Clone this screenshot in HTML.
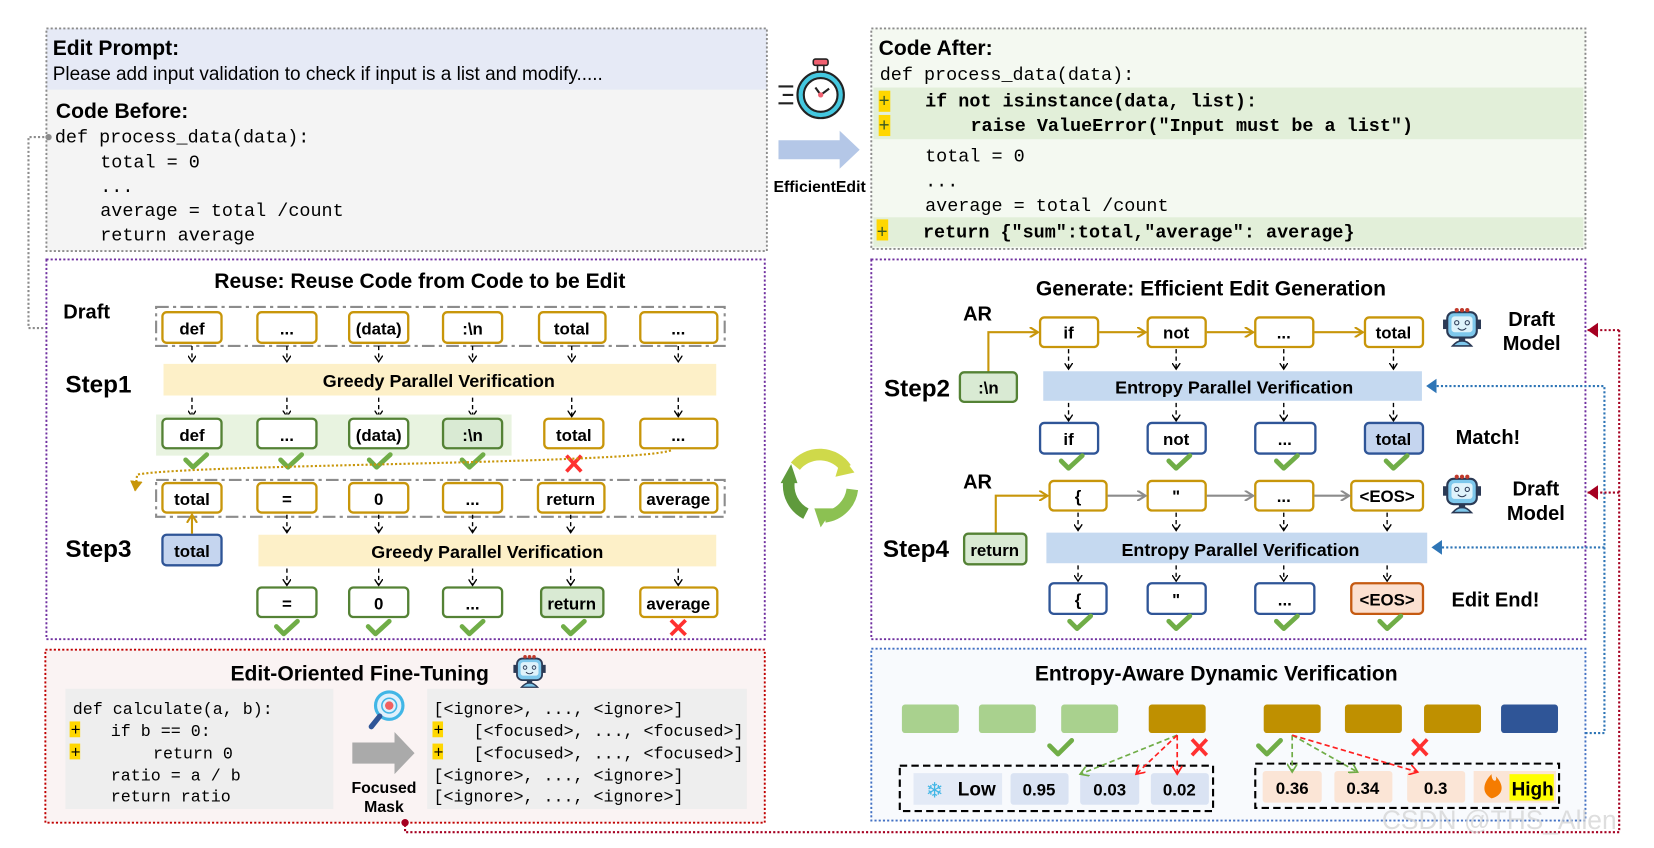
<!DOCTYPE html>
<html><head><meta charset="utf-8"><style>
html,body{margin:0;padding:0;background:#fff;width:1654px;height:848px;overflow:hidden}
svg{display:block}
.b{font-family:"Liberation Sans",sans-serif;font-weight:bold;fill:#000}
.m{font-family:"Liberation Mono",monospace;fill:#000}
.t{font-family:"Liberation Sans",sans-serif;font-weight:bold;font-size:16px;text-anchor:middle;fill:#000}
.gold{fill:#fff;stroke:#c8960a;stroke-width:2.2}
.grn{fill:#fff;stroke:#548235;stroke-width:2.2}
.grnf{fill:#d9ead3;stroke:#548235;stroke-width:2.2}
.blu{fill:#fff;stroke:#2f5597;stroke-width:2.2}
.bluf{fill:#c5d5ef;stroke:#2f5597;stroke-width:2.2}
.da{stroke:#000;stroke-width:1.3;stroke-dasharray:4 3;fill:none}
.ck{stroke:#70ad47;stroke-width:4.5;fill:none;stroke-linecap:round;stroke-linejoin:round}
.x{stroke:#ff3030;stroke-width:3.5;fill:none}
</style></head><body>
<svg width="1654" height="848" viewBox="0 0 1568 804" preserveAspectRatio="none" xmlns="http://www.w3.org/2000/svg">
<defs>
<marker id="ah" markerWidth="8" markerHeight="8" refX="6" refY="4" orient="auto" markerUnits="userSpaceOnUse"><path d="M0,0 L6,4 L0,8" fill="none" stroke="#000" stroke-width="1.3"/></marker>
<marker id="ag" markerWidth="10" markerHeight="10" refX="8" refY="5" orient="auto" markerUnits="userSpaceOnUse"><path d="M0,0 L8,5 L0,10" fill="none" stroke="#c8960a" stroke-width="2"/></marker>
<marker id="agr" markerWidth="10" markerHeight="10" refX="8" refY="5" orient="auto" markerUnits="userSpaceOnUse"><path d="M0,0 L8,5 L0,10" fill="none" stroke="#8c8c8c" stroke-width="2"/></marker>
<marker id="tri" markerWidth="12" markerHeight="12" refX="10" refY="6" orient="auto" markerUnits="userSpaceOnUse"><path d="M0,0 L10,6 L0,12z" fill="#8c8c8c"/></marker>
<marker id="trig" markerWidth="12" markerHeight="12" refX="10" refY="6" orient="auto" markerUnits="userSpaceOnUse"><path d="M0,0 L10,6 L0,12z" fill="#c8960a"/></marker>
<marker id="trib" markerWidth="12" markerHeight="14" refX="10" refY="7" orient="auto" markerUnits="userSpaceOnUse"><path d="M0,0 L10,7 L0,14z" fill="#2e75b6"/></marker>
<marker id="trir" markerWidth="12" markerHeight="14" refX="10" refY="7" orient="auto" markerUnits="userSpaceOnUse"><path d="M0,0 L10,7 L0,14z" fill="#a50021"/></marker>
<marker id="agn" markerWidth="10" markerHeight="10" refX="8" refY="5" orient="auto" markerUnits="userSpaceOnUse"><path d="M0,0 L8,5 L0,10" fill="none" stroke="#70ad47" stroke-width="1.6"/></marker>
<marker id="arr" markerWidth="10" markerHeight="10" refX="8" refY="5" orient="auto" markerUnits="userSpaceOnUse"><path d="M0,0 L8,5 L0,10" fill="none" stroke="#ff2020" stroke-width="1.6"/></marker>
<g id="robot"><rect x="-14" y="-16" width="28" height="24" rx="6" fill="#7ec8ec" stroke="#2b3a55" stroke-width="2"/><rect x="-10" y="-12" width="20" height="15" rx="3" fill="#dff3fb"/><circle cx="-5" cy="-6" r="2" fill="none" stroke="#2b3a55"/><circle cx="5" cy="-6" r="2" fill="none" stroke="#2b3a55"/><path d="M-4,-1 Q0,3 4,-1" stroke="#2b3a55" fill="none"/><rect x="-18" y="-9" width="4" height="9" fill="#2b3a55"/><rect x="14" y="-9" width="4" height="9" fill="#2b3a55"/><circle cx="-5" cy="-18" r="2" fill="#c0392b"/><circle cx="0" cy="-18" r="2" fill="#c0392b"/><circle cx="5" cy="-18" r="2" fill="#c0392b"/><path d="M-9,16 Q0,6 9,16z" fill="#7ec8ec" stroke="#2b3a55" stroke-width="1.5"/><rect x="-3" y="8" width="6" height="4" fill="#2b3a55"/></g>
</defs>

<!-- top-left -->
<rect x="44" y="27" width="683" height="211" fill="#f4f4f4"/>
<rect x="44" y="27" width="683" height="58" fill="#e6eaf6"/>
<rect x="44" y="27" width="683" height="211" fill="none" stroke="#8c8c8c" stroke-width="1.8" stroke-dasharray="2 2"/>
<text class="b" x="50" y="52" font-size="20">Edit Prompt:</text>
<text x="50" y="76" font-size="18" font-family="Liberation Sans,sans-serif">Please add input validation to check if input is a list and modify.....</text>
<text class="b" x="53" y="112" font-size="20">Code Before:</text>
<g class="m" font-size="17.5">
<text x="52" y="135">def process_data(data):</text>
<text x="95" y="159">total = 0</text>
<text x="95" y="182">...</text>
<text x="95" y="205">average = total /count</text>
<text x="95" y="228">return average</text>
</g>
<path d="M46,130 H27 V311 H146" fill="none" stroke="#8c8c8c" stroke-width="2" stroke-dasharray="2 2" marker-end="url(#tri)"/>
<circle cx="46" cy="130" r="3" fill="#8c8c8c"/>

<!-- Reuse box -->
<rect x="44" y="246" width="681" height="360" fill="#fff" stroke="#7030a0" stroke-width="1.8" stroke-dasharray="2 2"/>
<text class="b" x="398" y="273" font-size="20" text-anchor="middle">Reuse: Reuse Code from Code to be Edit</text>
<text class="b" x="60" y="302" font-size="19">Draft</text>
<rect x="148" y="291" width="539" height="37" fill="none" stroke="#8c8c8c" stroke-width="2" stroke-dasharray="12 4 3 4"/>
<g>
<rect class="gold" x="154" y="296" width="56" height="29" rx="4"/><text class="t" x="182" y="317">def</text>
<rect class="gold" x="244" y="296" width="56" height="29" rx="4"/><text class="t" x="272" y="317">...</text>
<rect class="gold" x="331" y="296" width="56" height="29" rx="4"/><text class="t" x="359" y="317">(data)</text>
<rect class="gold" x="420" y="296" width="56" height="29" rx="4"/><text class="t" x="448" y="317">:\n</text>
<rect class="gold" x="511" y="296" width="63" height="29" rx="4"/><text class="t" x="542" y="317">total</text>
<rect class="gold" x="607" y="296" width="73" height="29" rx="4"/><text class="t" x="643" y="317">...</text>
</g>
<text class="b" x="62" y="372" font-size="23">Step1</text>
<rect x="155" y="345" width="524" height="30" fill="#fdf0c8"/>
<text class="b" x="416" y="367" font-size="17" text-anchor="middle">Greedy Parallel Verification</text>
<g class="da" marker-end="url(#ah)">
<line x1="182" y1="328" x2="182" y2="343"/><line x1="272" y1="328" x2="272" y2="343"/><line x1="359" y1="328" x2="359" y2="343"/><line x1="448" y1="328" x2="448" y2="343"/><line x1="542" y1="328" x2="542" y2="343"/><line x1="643" y1="328" x2="643" y2="343"/>
<line x1="182" y1="377" x2="182" y2="395"/><line x1="272" y1="377" x2="272" y2="395"/><line x1="359" y1="377" x2="359" y2="395"/><line x1="448" y1="377" x2="448" y2="395"/><line x1="542" y1="377" x2="542" y2="395"/><line x1="643" y1="377" x2="643" y2="395"/>
</g>
<rect x="148" y="393" width="337" height="39" fill="#e8f3e0"/>
<rect class="grn" x="154" y="397" width="56" height="28" rx="4"/><text class="t" x="182" y="418">def</text>
<rect class="grn" x="244" y="397" width="56" height="28" rx="4"/><text class="t" x="272" y="418">...</text>
<rect class="grn" x="331" y="397" width="56" height="28" rx="4"/><text class="t" x="359" y="418">(data)</text>
<rect class="grnf" x="420" y="397" width="56" height="28" rx="4"/><text class="t" x="448" y="418">:\n</text>
<rect class="gold" x="516" y="397" width="56" height="28" rx="4"/><text class="t" x="544" y="418">total</text>
<rect class="gold" x="607" y="397" width="73" height="28" rx="4"/><text class="t" x="643" y="418">...</text>
<g class="ck"><path d="M176,436 L183,443 L196,431"/><path d="M266,436 L273,443 L286,431"/><path d="M350,436 L357,443 L370,431"/><path d="M438,436 L445,443 L458,431"/></g>
<g class="x"><line x1="537" y1="432" x2="551" y2="447"/><line x1="551" y1="432" x2="537" y2="447"/></g>
<path d="M636,427 C600,440 180,440 130,450 L128,466" fill="none" stroke="#c8960a" stroke-width="2" stroke-dasharray="2 2" marker-end="url(#trig)"/>
<rect x="148" y="455" width="539" height="35" fill="none" stroke="#8c8c8c" stroke-width="2" stroke-dasharray="12 4 3 4"/>
<rect class="gold" x="154" y="458" width="56" height="28" rx="4"/><text class="t" x="182" y="479">total</text>
<rect class="gold" x="244" y="458" width="56" height="28" rx="4"/><text class="t" x="272" y="479">=</text>
<rect class="gold" x="331" y="458" width="56" height="28" rx="4"/><text class="t" x="359" y="479">0</text>
<rect class="gold" x="420" y="458" width="56" height="28" rx="4"/><text class="t" x="448" y="479">...</text>
<rect class="gold" x="510" y="458" width="63" height="28" rx="4"/><text class="t" x="541" y="479">return</text>
<rect class="gold" x="607" y="458" width="73" height="28" rx="4"/><text class="t" x="643" y="479">average</text>
<text class="b" x="62" y="528" font-size="23">Step3</text>
<rect class="bluf" x="154" y="507" width="56" height="29" rx="4"/><text class="t" x="182" y="528">total</text>
<line x1="182" y1="506" x2="182" y2="488" stroke="#c8960a" stroke-width="2" marker-end="url(#ag)"/>
<rect x="245" y="507" width="434" height="30" fill="#fdf0c8"/>
<text class="b" x="462" y="529" font-size="17" text-anchor="middle">Greedy Parallel Verification</text>
<g class="da" marker-end="url(#ah)">
<line x1="272" y1="488" x2="272" y2="505"/><line x1="359" y1="488" x2="359" y2="505"/><line x1="448" y1="488" x2="448" y2="505"/><line x1="541" y1="488" x2="541" y2="505"/>
<line x1="272" y1="539" x2="272" y2="555"/><line x1="359" y1="539" x2="359" y2="555"/><line x1="448" y1="539" x2="448" y2="555"/><line x1="541" y1="539" x2="541" y2="555"/><line x1="643" y1="539" x2="643" y2="555"/>
</g>
<rect class="grn" x="244" y="557" width="56" height="28" rx="4"/><text class="t" x="272" y="578">=</text>
<rect class="grn" x="331" y="557" width="56" height="28" rx="4"/><text class="t" x="359" y="578">0</text>
<rect class="grn" x="420" y="557" width="56" height="28" rx="4"/><text class="t" x="448" y="578">...</text>
<rect class="grnf" x="513" y="557" width="59" height="28" rx="4"/><text class="t" x="542" y="578">return</text>
<rect class="gold" x="607" y="557" width="73" height="28" rx="4"/><text class="t" x="643" y="578">average</text>
<g class="ck"><path d="M262,594 L269,601 L282,589"/><path d="M349,594 L356,601 L369,589"/><path d="M438,594 L445,601 L458,589"/><path d="M534,594 L541,601 L554,589"/></g>
<g class="x"><line x1="636" y1="588" x2="650" y2="602"/><line x1="650" y1="588" x2="636" y2="602"/></g>

<!-- Fine tuning -->
<rect x="43" y="616" width="682" height="164" fill="#faf3f3" stroke="#c00000" stroke-width="1.8" stroke-dasharray="2 2"/>
<text class="b" x="341" y="645" font-size="20" text-anchor="middle">Edit-Oriented Fine-Tuning</text>
<use href="#robot" transform="translate(502,638) scale(0.85)"/>
<rect x="62" y="653" width="254" height="114" fill="#eeeeee"/>
<rect x="66" y="684" width="10" height="15" fill="#ffd700"/><rect x="66" y="705" width="10" height="15" fill="#ffd700"/>
<g class="m" font-size="15.8">
<text x="69" y="677">def calculate(a, b):</text>
<text x="67" y="697">+</text><text x="105" y="698">if b == 0:</text>
<text x="67" y="718">+</text><text x="145" y="719">return 0</text>
<text x="105" y="740">ratio = a / b</text>
<text x="105" y="760">return ratio</text>
</g>
<g transform="translate(369,669)"><circle r="13" fill="#dff0fb" stroke="#41b6e6" stroke-width="3"/><circle r="7" fill="none" stroke="#41b6e6" stroke-width="1.5"/><circle r="4" fill="#f06060"/><line x1="-9" y1="10" x2="-17" y2="20" stroke="#2f5597" stroke-width="5" stroke-linecap="round"/></g>
<path d="M334,704 H374 V694 L393,714 L374,734 V724 H334z" fill="#aaaaaa"/>
<text class="b" x="364" y="752" font-size="15" text-anchor="middle">Focused</text>
<text class="b" x="364" y="770" font-size="15" text-anchor="middle">Mask</text>
<rect x="405" y="653" width="303" height="114" fill="#eeeeee"/>
<rect x="410" y="684" width="10" height="15" fill="#ffd700"/><rect x="410" y="705" width="10" height="15" fill="#ffd700"/>
<g class="m" font-size="15.8">
<text x="411" y="677">[&lt;ignore&gt;, ..., &lt;ignore&gt;]</text>
<text x="411" y="697">+</text><text x="449" y="698">[&lt;focused&gt;, ..., &lt;focused&gt;]</text>
<text x="411" y="718">+</text><text x="449" y="719">[&lt;focused&gt;, ..., &lt;focused&gt;]</text>
<text x="411" y="740">[&lt;ignore&gt;, ..., &lt;ignore&gt;]</text>
<text x="411" y="760">[&lt;ignore&gt;, ..., &lt;ignore&gt;]</text>
</g>

<!-- middle -->
<g transform="translate(778,90)">
<rect x="-7" y="-34" width="14" height="6" rx="2" fill="#f06070" stroke="#222" stroke-width="1.5"/>
<rect x="-3" y="-28" width="6" height="6" fill="#fff" stroke="#222" stroke-width="1.5"/>
<circle r="22" fill="#44c8e0" stroke="#222" stroke-width="2"/>
<circle r="16" fill="#fff" stroke="#222" stroke-width="2"/>
<path d="M0,0 L-5,-7 M0,0 L8,-6" stroke="#222" stroke-width="2" fill="none"/>
<circle r="2.5" fill="#f06070"/>
<path d="M-40,-8 H-26 M-36,0 H-26 M-40,8 H-26" stroke="#222" stroke-width="2"/>
</g>
<path d="M738,133 H796 V124 L815,142 L796,160 V151 H738z" fill="#b4c7e7"/>
<text class="b" x="777" y="182" font-size="15" text-anchor="middle">EfficientEdit</text>
<g transform="translate(778,460)" fill="none" stroke-width="11">
<path d="M-24,-18 A30,30 0 0 1 24,-16" stroke="#cfd94a"/>
<path d="M30,4 A30,30 0 0 1 4,30" stroke="#8cc152"/>
<path d="M-14,27 A30,30 0 0 1 -30,-4" stroke="#5f9a3c"/>
<path d="M20,-28 L32,-12 L14,-8z" fill="#cfd94a" stroke="none"/>
<path d="M12,22 L0,40 L-6,22z" fill="#8cc152" stroke="none"/>
<path d="M-38,-2 L-22,-2 L-28,-20z" fill="#5f9a3c" stroke="none"/>
</g>

<!-- Code after -->
<rect x="826" y="27" width="677" height="209" fill="#f4f9f1"/>
<rect x="828" y="83" width="673" height="49" fill="#e2efd9"/>
<rect x="828" y="206" width="673" height="28" fill="#e2efd9"/>
<rect x="826" y="27" width="677" height="209" fill="none" stroke="#8c8c8c" stroke-width="1.8" stroke-dasharray="2 2"/>
<text class="b" x="833" y="52" font-size="20">Code After:</text>
<rect x="833" y="86" width="11" height="20" fill="#ffd700"/><rect x="833" y="109" width="11" height="20" fill="#ffd700"/><rect x="831" y="208" width="11" height="20" fill="#ffd700"/>
<g class="m" font-size="17.5">
<text x="834" y="76">def process_data(data):</text>
<text x="833" y="101" fill="#385723">+</text><text x="877" y="101" font-weight="bold">if not isinstance(data, list):</text>
<text x="833" y="124" fill="#385723">+</text><text x="920" y="124" font-weight="bold">raise ValueError("Input must be a list")</text>
<text x="877" y="153">total = 0</text>
<text x="877" y="177">...</text>
<text x="877" y="200">average = total /count</text>
<text x="831" y="225" fill="#385723">+</text><text x="875" y="225" font-weight="bold">return {"sum":total,"average": average}</text>
</g>

<!-- Generate -->
<rect x="826" y="246" width="677" height="360" fill="#fff" stroke="#7030a0" stroke-width="1.8" stroke-dasharray="2 2"/>
<text class="b" x="1148" y="280" font-size="20" text-anchor="middle">Generate: Efficient Edit Generation</text>
<text class="b" x="913" y="304" font-size="19">AR</text>
<path d="M937,353 V315 H984" fill="none" stroke="#c8960a" stroke-width="2" marker-end="url(#ag)"/>
<rect class="gold" x="986" y="301" width="55" height="28" rx="4"/><text class="t" x="1013" y="321">if</text>
<rect class="gold" x="1088" y="301" width="55" height="28" rx="4"/><text class="t" x="1115" y="321">not</text>
<rect class="gold" x="1190" y="301" width="55" height="28" rx="4"/><text class="t" x="1217" y="321">...</text>
<rect class="gold" x="1294" y="301" width="55" height="28" rx="4"/><text class="t" x="1321" y="321">total</text>
<g stroke="#c8960a" stroke-width="2" marker-end="url(#ag)"><line x1="1042" y1="315" x2="1086" y2="315"/><line x1="1144" y1="315" x2="1188" y2="315"/><line x1="1246" y1="315" x2="1292" y2="315"/></g>
<use href="#robot" transform="translate(1386,312)"/>
<text class="b" x="1452" y="309" font-size="19" text-anchor="middle">Draft</text>
<text class="b" x="1452" y="332" font-size="19" text-anchor="middle">Model</text>
<text class="b" x="838" y="376" font-size="23">Step2</text>
<rect class="grnf" x="910" y="353" width="54" height="28" rx="4"/><text class="t" x="937" y="373">:\n</text>
<rect x="989" y="352" width="359" height="28" fill="#c5d9f0"/>
<text class="b" x="1170" y="373" font-size="17" text-anchor="middle">Entropy Parallel Verification</text>
<g class="da" marker-end="url(#ah)">
<line x1="1013" y1="331" x2="1013" y2="350"/><line x1="1115" y1="331" x2="1115" y2="350"/><line x1="1217" y1="331" x2="1217" y2="350"/><line x1="1321" y1="331" x2="1321" y2="350"/>
<line x1="1013" y1="382" x2="1013" y2="399"/><line x1="1115" y1="382" x2="1115" y2="399"/><line x1="1217" y1="382" x2="1217" y2="399"/><line x1="1321" y1="382" x2="1321" y2="399"/>
</g>
<rect class="blu" x="986" y="401" width="55" height="29" rx="4"/><text class="t" x="1013" y="422">if</text>
<rect class="blu" x="1088" y="401" width="55" height="29" rx="4"/><text class="t" x="1115" y="422">not</text>
<rect class="blu" x="1190" y="401" width="57" height="29" rx="4"/><text class="t" x="1218" y="422">...</text>
<rect class="bluf" x="1294" y="401" width="55" height="29" rx="4"/><text class="t" x="1321" y="422">total</text>
<text class="b" x="1380" y="421" font-size="19">Match!</text>
<g class="ck"><path d="M1006,437 L1013,444 L1026,432"/><path d="M1108,437 L1115,444 L1128,432"/><path d="M1210,437 L1217,444 L1230,432"/><path d="M1314,437 L1321,444 L1334,432"/></g>
<text class="b" x="913" y="463" font-size="19">AR</text>
<path d="M944,506 V470 H993" fill="none" stroke="#c8960a" stroke-width="2" marker-end="url(#ag)"/>
<rect class="gold" x="995" y="456" width="54" height="28" rx="4"/><text class="t" x="1022" y="476">{</text>
<rect class="gold" x="1088" y="456" width="55" height="28" rx="4"/><text class="t" x="1115" y="476">"</text>
<rect class="gold" x="1190" y="456" width="55" height="28" rx="4"/><text class="t" x="1217" y="476">...</text>
<rect class="gold" x="1281" y="456" width="68" height="28" rx="4"/><text class="t" x="1315" y="476">&lt;EOS&gt;</text>
<g stroke="#8c8c8c" stroke-width="2" marker-end="url(#agr)"><line x1="1050" y1="470" x2="1086" y2="470"/><line x1="1144" y1="470" x2="1188" y2="470"/><line x1="1246" y1="470" x2="1279" y2="470"/></g>
<use href="#robot" transform="translate(1386,470)"/>
<text class="b" x="1456" y="470" font-size="19" text-anchor="middle">Draft</text>
<text class="b" x="1456" y="493" font-size="19" text-anchor="middle">Model</text>
<text class="b" x="837" y="528" font-size="23">Step4</text>
<rect class="grnf" x="914" y="506" width="59" height="29" rx="4"/><text class="t" x="943" y="527">return</text>
<rect x="992" y="505" width="361" height="29" fill="#c5d9f0"/>
<text class="b" x="1176" y="527" font-size="17" text-anchor="middle">Entropy Parallel Verification</text>
<g class="da" marker-end="url(#ah)">
<line x1="1022" y1="486" x2="1022" y2="503"/><line x1="1115" y1="486" x2="1115" y2="503"/><line x1="1217" y1="486" x2="1217" y2="503"/><line x1="1315" y1="486" x2="1315" y2="503"/>
<line x1="1022" y1="536" x2="1022" y2="551"/><line x1="1115" y1="536" x2="1115" y2="551"/><line x1="1217" y1="536" x2="1217" y2="551"/><line x1="1315" y1="536" x2="1315" y2="551"/>
</g>
<rect class="blu" x="995" y="553" width="54" height="29" rx="4"/><text class="t" x="1022" y="574">{</text>
<rect class="blu" x="1088" y="553" width="55" height="29" rx="4"/><text class="t" x="1115" y="574">"</text>
<rect class="blu" x="1190" y="553" width="56" height="29" rx="4"/><text class="t" x="1218" y="574">...</text>
<rect x="1281" y="553" width="68" height="29" rx="4" fill="#fbe0d0" stroke="#c55a11" stroke-width="2.2"/><text class="t" x="1315" y="574">&lt;EOS&gt;</text>
<text class="b" x="1376" y="575" font-size="19">Edit End!</text>
<g class="ck"><path d="M1014,589 L1021,596 L1034,584"/><path d="M1108,589 L1115,596 L1128,584"/><path d="M1210,589 L1217,596 L1230,584"/><path d="M1308,589 L1315,596 L1328,584"/></g>

<!-- Entropy -->
<rect x="826" y="615" width="677" height="163" fill="#f8fafd" stroke="#4472c4" stroke-width="1.8" stroke-dasharray="2 2"/>
<text class="b" x="1153" y="645" font-size="20" text-anchor="middle">Entropy-Aware Dynamic Verification</text>
<g>
<rect x="855" y="668" width="54" height="27" rx="3" fill="#a9d18e"/>
<rect x="928" y="668" width="54" height="27" rx="3" fill="#a9d18e"/>
<rect x="1006" y="668" width="54" height="27" rx="3" fill="#a9d18e"/>
<rect x="1089" y="668" width="54" height="27" rx="3" fill="#bf9000"/>
<rect x="1198" y="668" width="54" height="27" rx="3" fill="#bf9000"/>
<rect x="1275" y="668" width="54" height="27" rx="3" fill="#bf9000"/>
<rect x="1350" y="668" width="54" height="27" rx="3" fill="#bf9000"/>
<rect x="1423" y="668" width="54" height="27" rx="3" fill="#2f5597"/>
</g>
<rect x="853" y="726" width="297" height="43" fill="none" stroke="#000" stroke-width="2" stroke-dasharray="7 4"/>
<rect x="866" y="733" width="84" height="30" fill="#e3eaf6"/>
<text x="886" y="756" font-size="20" fill="#41b6e6" text-anchor="middle" font-family="DejaVu Sans,sans-serif">❄</text>
<text class="b" x="908" y="754" font-size="18">Low</text>
<rect x="958" y="733" width="55" height="30" rx="3" fill="#dae3f3"/><text class="t" x="985" y="754" font-size="17">0.95</text>
<rect x="1024" y="733" width="56" height="30" rx="3" fill="#dae3f3"/><text class="t" x="1052" y="754">0.03</text>
<rect x="1091" y="733" width="55" height="30" rx="3" fill="#dae3f3"/><text class="t" x="1118" y="754">0.02</text>
<rect x="1190" y="724" width="288" height="42" fill="none" stroke="#000" stroke-width="2" stroke-dasharray="7 4"/>
<rect x="1197" y="731" width="56" height="30" rx="3" fill="#fbe5d6"/><text class="t" x="1225" y="753">0.36</text>
<rect x="1265" y="731" width="55" height="30" rx="3" fill="#fbe5d6"/><text class="t" x="1292" y="753">0.34</text>
<rect x="1334" y="731" width="55" height="30" rx="3" fill="#fbe5d6"/><text class="t" x="1361" y="753">0.3</text>
<rect x="1397" y="731" width="78" height="30" fill="#fbe5d6"/>
<path d="M1414,757 C1404,752 1406,742 1414,734 C1414,742 1420,742 1418,736 C1426,744 1426,754 1414,757z" fill="#f57c00"/>
<rect x="1431" y="734" width="42" height="25" fill="#ffff00"/>
<text class="b" x="1433" y="754" font-size="18">High</text>
<g stroke-width="1.6" stroke-dasharray="5 3" fill="none">
<line x1="1116" y1="697" x2="1024" y2="734" stroke="#70ad47" marker-end="url(#agn)"/>
<line x1="1116" y1="697" x2="1077" y2="734" stroke="#ff2020" marker-end="url(#arr)"/>
<line x1="1116" y1="697" x2="1116" y2="734" stroke="#ff2020" marker-end="url(#arr)"/>
<line x1="1225" y1="697" x2="1225" y2="732" stroke="#70ad47" marker-end="url(#agn)"/>
<line x1="1225" y1="697" x2="1287" y2="732" stroke="#70ad47" marker-end="url(#agn)"/>
<line x1="1225" y1="697" x2="1344" y2="732" stroke="#ff2020" marker-end="url(#arr)"/>
</g>
<g class="ck"><path d="M995,707 L1003,715 L1016,702"/><path d="M1193,707 L1201,715 L1214,702"/></g>
<g class="x"><line x1="1130" y1="701" x2="1144" y2="716"/><line x1="1144" y1="701" x2="1130" y2="716"/><line x1="1339" y1="701" x2="1353" y2="716"/><line x1="1353" y1="701" x2="1339" y2="716"/></g>

<!-- right connectors -->
<g fill="none" stroke="#2e75b6" stroke-width="2" stroke-dasharray="2 2">
<path d="M1503,695 H1521 V366 H1352" marker-end="url(#trib)"/>
<path d="M1521,519 H1357" marker-end="url(#trib)"/>
</g>
<g fill="none" stroke="#a50021" stroke-width="2" stroke-dasharray="2 2">
<path d="M1535,313 V789 H384 V780"/>
<path d="M1535,313 H1505" marker-end="url(#trir)"/>
<path d="M1535,467 H1505" marker-end="url(#trir)"/>
</g>
<circle cx="384" cy="780" r="3.5" fill="#a50021"/>
<text x="1310" y="786" font-size="25" fill="#d0d0d0" fill-opacity="0.7" font-family="Liberation Sans,sans-serif">CSDN @THS_Allen</text>
</svg>
</body></html>
